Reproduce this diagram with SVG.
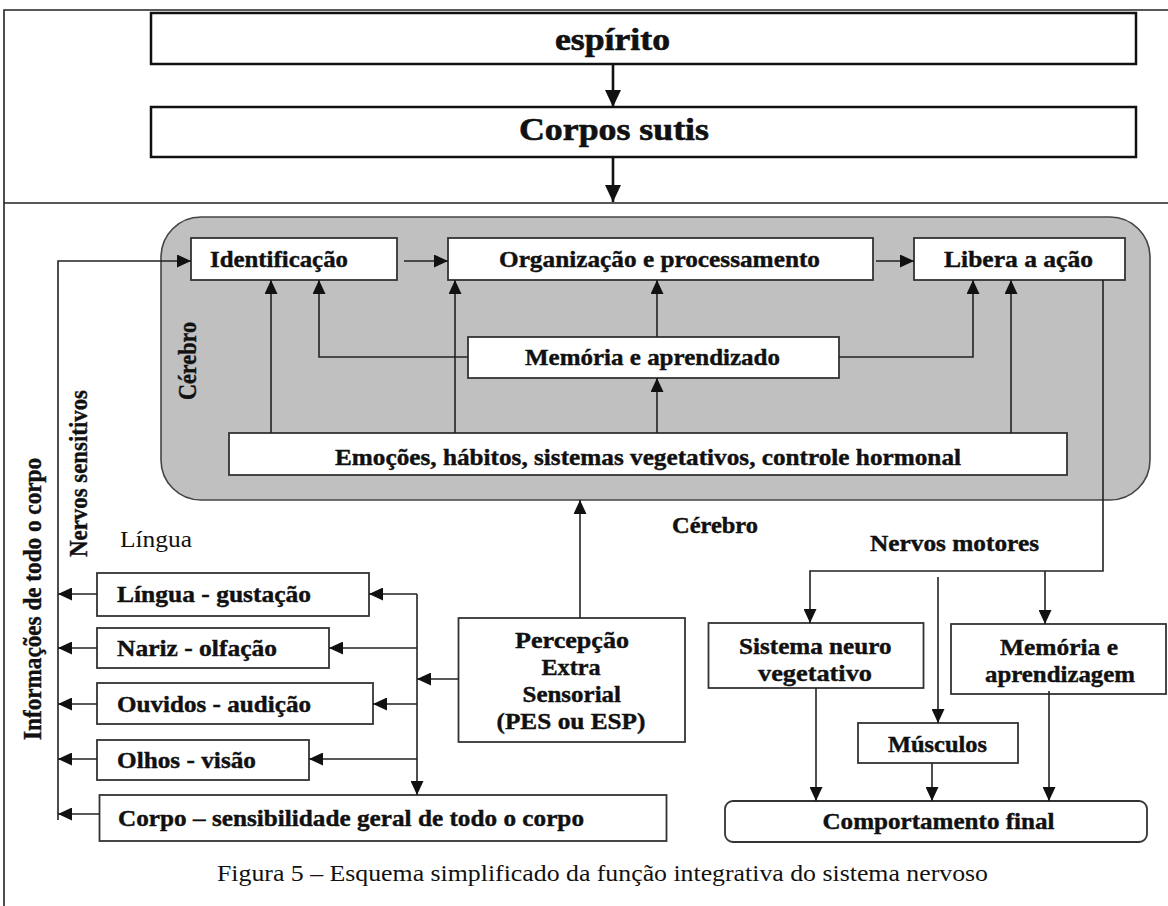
<svg xmlns="http://www.w3.org/2000/svg" width="1168" height="906" viewBox="0 0 1168 906" font-family="'Liberation Serif','Times New Roman',serif">
<style>
text{font-family:"Liberation Serif","Times New Roman",serif;fill:#111}
.b{font-weight:bold;font-size:23px;stroke:#111;stroke-width:0.4}
.rot{font-weight:bold;font-size:25px;stroke:#111;stroke-width:0.4}
.big{font-weight:bold;font-size:31px;stroke:#111;stroke-width:0.6}
.r{font-size:23px}
.box{fill:#fff;stroke:#333;stroke-width:1.8}
.top{fill:#fff;stroke:#111;stroke-width:2.5}
.ln{fill:none;stroke:#222;stroke-width:1.6}
.lnb{fill:none;stroke:#111;stroke-width:2.6}
.frame{fill:none;stroke:#222;stroke-width:1.6}
</style>
<defs>
<marker id="ar" markerUnits="userSpaceOnUse" markerWidth="15" markerHeight="13" refX="14" refY="6.5" orient="auto">
<path d="M0,0 L14,6.5 L0,13 z" fill="#111"/>
</marker>
<marker id="arb" markerUnits="userSpaceOnUse" markerWidth="18" markerHeight="16" refX="17" refY="8" orient="auto">
<path d="M0,0 L17,8 L0,16 z" fill="#111"/>
</marker>
</defs>
<rect width="1168" height="906" fill="#fff"/>
<g id="frame">
<path class="frame" d="M4,906 V10 H1168 M4,203 H1168"/>
</g>
<g id="espirito">
<rect class="top" x="151" y="13" width="985" height="51"/>
<text class="big" x="555" y="50" textLength="115" lengthAdjust="spacingAndGlyphs">espírito</text>
</g>
<g id="corpos-sutis">
<rect class="top" x="151" y="107" width="985" height="50"/>
<text class="big" x="519" y="140" textLength="190" lengthAdjust="spacingAndGlyphs">Corpos sutis</text>
</g>
<g id="cerebro">
<rect x="161" y="217" width="989" height="283" rx="40" ry="40" fill="#c0c0c0" stroke="#444" stroke-width="1.6"/>
<text class="rot" transform="translate(196,400) rotate(-90)" x="0" y="0" textLength="78" lengthAdjust="spacingAndGlyphs">Cérebro</text>
</g>
<g id="identificacao">
<rect class="box" x="191" y="238" width="206" height="42"/>
<text class="b" x="210" y="267" textLength="138" lengthAdjust="spacingAndGlyphs">Identificação</text>
</g>
<g id="organizacao">
<rect class="box" x="448" y="238" width="425" height="42"/>
<text class="b" x="499" y="267" textLength="321" lengthAdjust="spacingAndGlyphs">Organização e processamento</text>
</g>
<g id="libera">
<rect class="box" x="914" y="238" width="211" height="42"/>
<text class="b" x="944" y="267" textLength="149" lengthAdjust="spacingAndGlyphs">Libera a ação</text>
</g>
<g id="memoria-aprendizado">
<rect class="box" x="468" y="337" width="371" height="41"/>
<text class="b" x="525" y="365" textLength="255" lengthAdjust="spacingAndGlyphs">Memória e aprendizado</text>
</g>
<g id="emocoes">
<rect class="box" x="229" y="433" width="838" height="42"/>
<text class="b" x="335" y="465" textLength="626" lengthAdjust="spacingAndGlyphs">Emoções, hábitos, sistemas vegetativos, controle hormonal</text>
</g>
<g id="labels">
<text class="rot" transform="translate(41,740) rotate(-90)" x="0" y="0" textLength="282" lengthAdjust="spacingAndGlyphs">Informações de todo o corpo</text>
<text class="rot" transform="translate(87,557) rotate(-90)" x="0" y="0" textLength="167" lengthAdjust="spacingAndGlyphs">Nervos sensitivos</text>
<text class="r" x="120" y="547" textLength="72" lengthAdjust="spacingAndGlyphs">Língua</text>
<text class="b" x="672" y="533" textLength="86" lengthAdjust="spacingAndGlyphs">Cérebro</text>
<text class="b" x="870" y="551" textLength="169" lengthAdjust="spacingAndGlyphs">Nervos motores</text>
</g>
<g id="lingua">
<rect class="box" x="97" y="573" width="272" height="43"/>
<text class="b" x="117" y="602" textLength="194" lengthAdjust="spacingAndGlyphs">Língua - gustação</text>
</g>
<g id="nariz">
<rect class="box" x="97" y="628" width="232" height="40"/>
<text class="b" x="117" y="656" textLength="160" lengthAdjust="spacingAndGlyphs">Nariz - olfação</text>
</g>
<g id="ouvidos">
<rect class="box" x="97" y="683" width="276" height="41"/>
<text class="b" x="117" y="712" textLength="194" lengthAdjust="spacingAndGlyphs">Ouvidos - audição</text>
</g>
<g id="olhos">
<rect class="box" x="97" y="740" width="212" height="40"/>
<text class="b" x="117" y="768" textLength="139" lengthAdjust="spacingAndGlyphs">Olhos - visão</text>
</g>
<g id="corpo">
<rect class="box" x="99.5" y="795" width="567" height="46"/>
<text class="b" x="118" y="826" textLength="466" lengthAdjust="spacingAndGlyphs">Corpo – sensibilidade  geral de todo o corpo</text>
</g>
<g id="percepcao">
<rect class="box" x="458.5" y="618" width="226.5" height="124"/>
<text class="b" x="515" y="648" textLength="114" lengthAdjust="spacingAndGlyphs">Percepção</text>
<text class="b" x="541.5" y="675" textLength="59" lengthAdjust="spacingAndGlyphs">Extra</text>
<text class="b" x="522.5" y="702" textLength="98.5" lengthAdjust="spacingAndGlyphs">Sensorial</text>
<text class="b" x="496.5" y="729" textLength="149" lengthAdjust="spacingAndGlyphs">(PES ou ESP)</text>
</g>
<g id="sistema-neuro">
<rect class="box" x="708.5" y="623" width="215" height="65"/>
<text class="b" x="739" y="654" textLength="152.5" lengthAdjust="spacingAndGlyphs">Sistema neuro</text>
<text class="b" x="758" y="681" textLength="114" lengthAdjust="spacingAndGlyphs">vegetativo</text>
</g>
<g id="memoria-aprendizagem">
<rect class="box" x="951" y="624" width="215" height="70"/>
<text class="b" x="1000" y="655" textLength="118" lengthAdjust="spacingAndGlyphs">Memória e</text>
<text class="b" x="985" y="682" textLength="150" lengthAdjust="spacingAndGlyphs">aprendizagem</text>
</g>
<g id="musculos">
<rect class="box" x="858" y="723" width="160" height="40"/>
<text class="b" x="888" y="752" textLength="99" lengthAdjust="spacingAndGlyphs">Músculos</text>
</g>
<g id="comportamento">
<rect class="box" x="725" y="801" width="422" height="41" rx="8" ry="8"/>
<text class="b" x="822.5" y="829" textLength="232" lengthAdjust="spacingAndGlyphs">Comportamento final</text>
</g>
<g id="connectors">
<path class="lnb" d="M613,64 V107" marker-end="url(#arb)"/>
<path class="lnb" d="M613,157 V202" marker-end="url(#arb)"/>
<path class="ln" d="M404,261 H448" marker-end="url(#ar)"/>
<path class="ln" d="M876,261 H914" marker-end="url(#ar)"/>
<path class="ln" d="M271,433 V280" marker-end="url(#ar)"/>
<path class="ln" d="M468,357 H319 V280" marker-end="url(#ar)"/>
<path class="ln" d="M455,433 V280" marker-end="url(#ar)"/>
<path class="ln" d="M657,337 V280" marker-end="url(#ar)"/>
<path class="ln" d="M657,433 V378" marker-end="url(#ar)"/>
<path class="ln" d="M839,357 H973 V280" marker-end="url(#ar)"/>
<path class="ln" d="M1011,433 V280" marker-end="url(#ar)"/>
<path class="ln" d="M1103,280 V571 H810 V623" marker-end="url(#ar)"/>
<path class="ln" d="M1045,571 V624" marker-end="url(#ar)"/>
<path class="ln" d="M938,577 V723" marker-end="url(#ar)"/>
<path class="ln" d="M816,688 V801" marker-end="url(#ar)"/>
<path class="ln" d="M932,763 V801" marker-end="url(#ar)"/>
<path class="ln" d="M1049,691 V801" marker-end="url(#ar)"/>
<path class="ln" d="M580,618 V500" marker-end="url(#ar)"/>
<path class="ln" d="M458.5,679 H417" marker-end="url(#ar)"/>
<path class="ln" d="M417,594 V795" marker-end="url(#ar)"/>
<path class="ln" d="M417,594 H369" marker-end="url(#ar)"/>
<path class="ln" d="M417,648 H329" marker-end="url(#ar)"/>
<path class="ln" d="M417,704 H373" marker-end="url(#ar)"/>
<path class="ln" d="M417,759 H309" marker-end="url(#ar)"/>
<path class="ln" d="M58,820 V261 H191" marker-end="url(#ar)"/>
<path class="ln" d="M97,594 H58" marker-end="url(#ar)"/>
<path class="ln" d="M97,648 H58" marker-end="url(#ar)"/>
<path class="ln" d="M97,704 H58" marker-end="url(#ar)"/>
<path class="ln" d="M97,759 H58" marker-end="url(#ar)"/>
<path class="ln" d="M99.5,814 H58" marker-end="url(#ar)"/>
</g>
<g id="caption">
<text class="r" x="217" y="881" textLength="771" lengthAdjust="spacingAndGlyphs">Figura 5 – Esquema simplificado da função integrativa do sistema nervoso</text>
</g>
</svg>
